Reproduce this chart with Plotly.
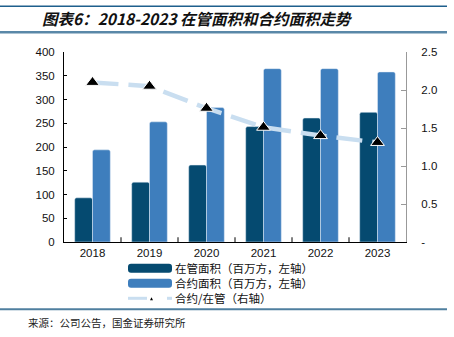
import plotly.graph_objects as go

years = ["2018", "2019", "2020", "2021", "2022", "2023"]
managed_area = [93, 126, 162, 243, 261, 273]
contract_area = [194, 253, 283, 365, 365, 358]
ratio = [2.10, 2.05, 1.76, 1.51, 1.40, 1.31]

name_managed = "在管面积（百万方，左轴）"
name_contract = "合约面积（百万方，左轴）"
name_ratio = "合约/在管（右轴）"

dark = "#054a70"
light = "#3e7ebd"
pale = "#c9def0"

fig = go.Figure()
fig.add_trace(go.Bar(x=years, y=managed_area, name=name_managed, marker_color=dark,
                     showlegend=False))
fig.add_trace(go.Bar(x=years, y=contract_area, name=name_contract, marker_color=light,
                     showlegend=False))
fig.add_trace(go.Scatter(x=years, y=ratio, name=name_ratio, yaxis="y2", mode="lines+markers",
                         line=dict(color=pale, width=4.5, dash="26px,10px"),
                         marker=dict(symbol="triangle-up", size=12, color="black",
                                     line=dict(color="white", width=1)),
                         showlegend=False))

tick_font = dict(family="Liberation Sans, Arial", size=11.5, color="#111")

fig.update_layout(
    width=454, height=337,
    margin=dict(l=64, r=48, t=52, b=95),
    paper_bgcolor="white", plot_bgcolor="white",
    barmode="group", bargap=0.375, bargroupgap=0, barcornerradius=2,
    xaxis=dict(showline=True, linecolor="black", linewidth=1.3, ticks="",
               tickfont=tick_font, showgrid=False, zeroline=False),
    yaxis=dict(range=[0, 400], dtick=50, showline=True, linecolor="black", linewidth=1,
               ticks="inside", ticklen=3, tickcolor="black", tickfont=tick_font,
               showgrid=False, zeroline=False, ticklabelstandoff=6),
    yaxis2=dict(range=[0, 2.5], overlaying="y", side="right", showline=True,
                linecolor="#999", linewidth=1, ticks="inside", ticklen=5, tickcolor="#999",
                tickvals=[0, 0.5, 1.0, 1.5, 2.0, 2.5],
                ticktext=["-", "0.5", "1.0", "1.5", "2.0", "2.5"],
                tickfont=tick_font, showgrid=False, zeroline=False, ticklabelstandoff=12),
    showlegend=False,
)

def fx(x):
    return (x - 64) / 342
def fy(y):
    return (241.7 - y) / 190

shapes = []
# x-axis category separator ticks (inside, upward)
for i in range(1, 6):
    xp = fx(64 + 57 * i)
    shapes.append(dict(type="line", xref="paper", yref="paper",
                       x0=xp, x1=xp, y0=0, y1=0.025, line=dict(color="black", width=1)))

shapes.append(dict(type="line", xref="paper", yref="paper", x0=fx(0), x1=fx(447),
                   y0=fy(6), y1=fy(6), line=dict(color="#1e5f8c", width=1.5)))
shapes.append(dict(type="line", xref="paper", yref="paper", x0=fx(0), x1=fx(447),
                   y0=fy(32), y1=fy(32), line=dict(color="#5a88a8", width=2.5)))
shapes.append(dict(type="line", xref="paper", yref="paper", x0=fx(0), x1=fx(447),
                   y0=fy(309), y1=fy(309), line=dict(color="#4f7f9f", width=2)))

# manual legend
def rrect(x0, x1, yc, h, r, color):
    y0, y1 = yc - h / 2, yc + h / 2
    path = (f"M {fx(x0 + r)} {fy(y0)} L {fx(x1 - r)} {fy(y0)} "
            f"Q {fx(x1)} {fy(y0)} {fx(x1)} {fy(y0 + r)} L {fx(x1)} {fy(y1 - r)} "
            f"Q {fx(x1)} {fy(y1)} {fx(x1 - r)} {fy(y1)} L {fx(x0 + r)} {fy(y1)} "
            f"Q {fx(x0)} {fy(y1)} {fx(x0)} {fy(y1 - r)} L {fx(x0)} {fy(y0 + r)} "
            f"Q {fx(x0)} {fy(y0)} {fx(x0 + r)} {fy(y0)} Z")
    return dict(type="path", xref="paper", yref="paper", path=path,
                fillcolor=color, line=dict(width=0))

rows = [268, 283, 298]
shapes.append(rrect(128, 172, rows[0], 9, 3, dark))
shapes.append(rrect(128, 172, rows[1], 9, 3, light))
shapes.append(dict(type="line", xref="paper", yref="paper", x0=fx(128), x1=fx(147),
                   y0=fy(rows[2]), y1=fy(rows[2]), line=dict(color=pale, width=3)))
shapes.append(dict(type="line", xref="paper", yref="paper", x0=fx(167), x1=fx(172),
                   y0=fy(rows[2]), y1=fy(rows[2]), line=dict(color=pale, width=3)))
tri = (f"M {fx(150)} {fy(rows[2] + 2)} L {fx(153)} {fy(rows[2] + 2)} "
       f"L {fx(151.5)} {fy(rows[2] - 1)} Z")
shapes.append(dict(type="path", xref="paper", yref="paper", path=tri,
                   fillcolor="black", line=dict(width=0)))

leg_font = dict(family="Noto Sans CJK SC", size=11.5, color="#111")
annotations = []
for name, yc in zip([name_managed, name_contract, name_ratio], rows):
    annotations.append(dict(text=name, xref="paper", yref="paper", x=fx(174), y=fy(yc),
                            xanchor="left", yanchor="middle", showarrow=False, font=leg_font,
                            borderpad=0))

annotations.append(dict(text="<b><i>图表6：2018-2023 在管面积和合约面积走势</i></b>",
                        xref="paper", yref="paper", x=fx(40), y=fy(18),
                        xanchor="left", yanchor="middle", showarrow=False,
                        font=dict(family="Noto Sans CJK SC", size=15.5, color="#111")))
annotations.append(dict(text="来源：公司公告，国金证券研究所",
                        xref="paper", yref="paper", x=fx(26), y=fy(322),
                        xanchor="left", yanchor="middle", showarrow=False,
                        font=dict(family="Noto Sans CJK SC", size=10.5, color="#222")))

fig.update_layout(shapes=shapes, annotations=annotations)
fig.write_html("out.html")
